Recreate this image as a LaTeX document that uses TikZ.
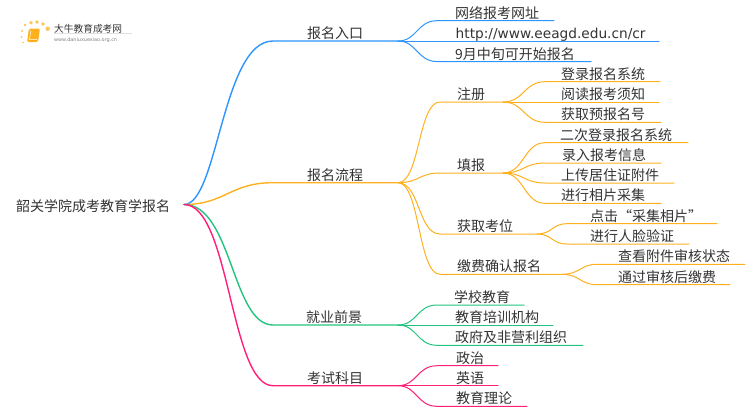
\documentclass[tikz,border=0pt]{standalone}
\usepackage{fontspec}
\setmainfont{Noto Sans CJK SC}
\newfontfamily\urlfont{DejaVu Sans}
\usepackage{xcolor}
\definecolor{rublue}{HTML}{2E94FF}
\definecolor{ruorange}{HTML}{FFB01F}
\definecolor{rugreen}{HTML}{22C47F}
\definecolor{rupink}{HTML}{FF1F78}
\definecolor{rutext}{HTML}{333333}
\tikzset{
    lab/.style={anchor=base west, inner sep=0pt, yshift=-1.6pt, text=rutext, font=\fontsize{14}{14}\selectfont},
    mainline/.style={line width=1.4pt, line cap=round},
    subline/.style={line width=1pt, line cap=round},
}

\begin{document}
\begin{tikzpicture}[x=1pt,y=-1pt]
    \useasboundingbox (0,0) rectangle (750,410);
    % logo
    \foreach \dx/\dy/\dr in {25/25/1.4,31/22.7/1.8,37/22/1.8,43/24/1.8,47.7/28.7/2.2,22/31/1.2,21.7/37/1,23/42.5/.9}
        \fill[ruorange!75!white] (\dx,\dy) circle (\dr pt);
    \fill[ruorange, rounded corners=1.5pt] (29,28.5) -- (40,28.5) -- (38,42) -- (27,42) -- cycle;
    \draw[white, line width=.5pt] (31,30.5) -- (29.3,39.5) -- (37,39.5);
    \node[anchor=base west, inner sep=0pt, text=rutext, font=\fontsize{9.7}{10}\selectfont] (logoname) at (54,32) {大牛教育成考网};
    \node[anchor=base west, inner sep=0pt, text=gray, font=\urlfont\fontsize{4.9}{5}\selectfont] (logourl) at (54,41) {www.daniuxuexiao.org.cn};
    \fill[black!12] (54,33.2) rectangle (132,33.7);

    % root
    \node[lab] (root) at (16,209.5) {韶关学院成考教育学报名};
    \coordinate (rootend) at (184,204.5);

    % first level
    \node[lab] (entry) at (307,37) {报名入口};
    \node[lab] (flow) at (307,178.7) {报名流程};
    \node[lab] (job) at (306,321) {就业前景};
    \node[lab] (exam) at (307,381.7) {考试科目};
    \coordinate (entrya) at (273,41);      \coordinate (entryb) at (398,41);
    \coordinate (flowa) at (273,182.7);    \coordinate (flowb) at (398,182.7);
    \coordinate (joba) at (273,325);       \coordinate (jobb) at (398,325);
    \coordinate (exama) at (273,385.7);    \coordinate (examb) at (398,385.7);
    \draw[mainline, rublue] (rootend) .. controls (218,204.5) and (222,41) .. (entrya) -- (entryb);
    \draw[mainline, ruorange] (rootend) .. controls (225,204.5) and (230,182.7) .. (flowa) -- (flowb);
    \draw[mainline, rugreen] (rootend) .. controls (232,204.5) and (232,325) .. (joba) -- (jobb);
    \draw[mainline, rupink] (rootend) .. controls (230,204.5) and (230,385.7) .. (exama) -- (examb);

    % entry
    \node[lab] (site) at (455,16.7) {网络报考网址};
    \node[lab, font=\urlfont\fontsize{13.7}{14}\selectfont] (url) at (455.5,37) {http://www.eeagd.edu.cn/cr};
    \node[lab] (sept) at (455,57.5) {9月中旬可开始报名};
    \coordinate (sitea) at (437,20.7);   \coordinate (siteb) at (554,20.7);
    \coordinate (urlb) at (659,41);
    \coordinate (septa) at (437,61.5);   \coordinate (septb) at (591,61.5);
    \draw[subline, rublue] (entryb) .. controls (417,41) and (417,20.7) .. (sitea) -- (siteb);
    \draw[subline, rublue] (entryb) -- (urlb);
    \draw[subline, rublue] (entryb) .. controls (417,41) and (417,61.5) .. (septa) -- (septb);

    % flow
    \node[lab] (reg) at (457,98) {注册};
    \node[lab] (form) at (457,169) {填报};
    \node[lab] (seat) at (457,230) {获取考位};
    \node[lab] (pay) at (457,270.3) {缴费确认报名};
    \coordinate (rega) at (440,102);     \coordinate (regb) at (503,102);
    \coordinate (forma) at (440,173);    \coordinate (formb) at (503,173);
    \coordinate (seata) at (440,234);    \coordinate (seatb) at (537,234);
    \coordinate (paya) at (440,274.3);   \coordinate (payb) at (562,274.3);
    \draw[subline, ruorange] (flowb) .. controls (420,182.7) and (418,102) .. (rega) -- (regb);
    \draw[subline, ruorange] (flowb) .. controls (419,182.7) and (419,173) .. (forma) -- (formb);
    \draw[subline, ruorange] (flowb) .. controls (420,182.7) and (418,234) .. (seata) -- (seatb);
    \draw[subline, ruorange] (flowb) .. controls (420,182.7) and (418,274.3) .. (paya) -- (payb);

    % reg
    \node[lab] (login) at (561,77.7) {登录报名系统};
    \node[lab] (notice) at (561,98) {阅读报考须知};
    \node[lab] (number) at (561,118.3) {获取预报名号};
    \coordinate (logina) at (545,81.7);   \coordinate (loginb) at (660,81.7);
    \coordinate (noticeb) at (659,102);
    \coordinate (numbera) at (545,122.3); \coordinate (numberb) at (661,122.3);
    \draw[subline, ruorange] (regb) .. controls (524,102) and (524,81.7) .. (logina) -- (loginb);
    \draw[subline, ruorange] (regb) -- (noticeb);
    \draw[subline, ruorange] (regb) .. controls (524,102) and (524,122.3) .. (numbera) -- (numberb);

    % form
    \node[lab] (again) at (560,138.7) {二次登录报名系统};
    \node[lab] (input) at (562,159) {录入报考信息};
    \node[lab] (upload) at (561,179) {上传居住证附件};
    \node[lab] (photo) at (561,199.3) {进行相片采集};
    \coordinate (againa) at (545,142.7);  \coordinate (againb) at (688,142.7);
    \coordinate (inputa) at (545,163);    \coordinate (inputb) at (661,163);
    \coordinate (uploada) at (545,183);   \coordinate (uploadb) at (674,183);
    \coordinate (photoa) at (545,203.3);  \coordinate (photob) at (661,203.3);
    \draw[subline, ruorange] (formb) .. controls (524,173) and (524,142.7) .. (againa) -- (againb);
    \draw[subline, ruorange] (formb) .. controls (524,173) and (524,163) .. (inputa) -- (inputb);
    \draw[subline, ruorange] (formb) .. controls (524,173) and (524,183) .. (uploada) -- (uploadb);
    \draw[subline, ruorange] (formb) .. controls (524,173) and (524,203.3) .. (photoa) -- (photob);

    % seat
    \node[lab] (click) at (590,219.7) {点击“采集相片”};
    \node[lab] (face) at (590,240) {进行人脸验证};
    \coordinate (clicka) at (567,223.7);  \coordinate (clickb) at (717,223.7);
    \coordinate (facea) at (567,244);     \coordinate (faceb) at (689,244);
    \draw[subline, ruorange] (seatb) .. controls (552,234) and (552,223.7) .. (clicka) -- (clickb);
    \draw[subline, ruorange] (seatb) .. controls (552,234) and (552,244) .. (facea) -- (faceb);

    % pay
    \node[lab] (status) at (618,260.3) {查看附件审核状态};
    \node[lab] (fee) at (618,280.7) {通过审核后缴费};
    \coordinate (statusa) at (597,264.3); \coordinate (statusb) at (745,264.3);
    \coordinate (feea) at (597,284.7);    \coordinate (feeb) at (730,284.7);
    \draw[subline, ruorange] (payb) .. controls (580,274.3) and (580,264.3) .. (statusa) -- (statusb);
    \draw[subline, ruorange] (payb) .. controls (580,274.3) and (580,284.7) .. (feea) -- (feeb);

    % job
    \node[lab] (school) at (454,301) {学校教育};
    \node[lab] (train) at (455,321) {教育培训机构};
    \node[lab] (gov) at (455,341.3) {政府及非营利组织};
    \coordinate (schoola) at (437,305);   \coordinate (schoolb) at (524,305);
    \coordinate (trainb) at (553,325);
    \coordinate (gova) at (437,345.3);    \coordinate (govb) at (583,345.3);
    \draw[subline, rugreen] (jobb) .. controls (417,325) and (417,305) .. (schoola) -- (schoolb);
    \draw[subline, rugreen] (jobb) -- (trainb);
    \draw[subline, rugreen] (jobb) .. controls (417,325) and (417,345.3) .. (gova) -- (govb);

    % exam
    \node[lab] (polit) at (456,361.7) {政治};
    \node[lab] (engl) at (456,381.7) {英语};
    \node[lab] (theory) at (456,402.3) {教育理论};
    \coordinate (polita) at (437,365.7);  \coordinate (politb) at (498,365.7);
    \coordinate (englb) at (498,385.7);
    \coordinate (theorya) at (437,406.3); \coordinate (theoryb) at (527,406.3);
    \draw[subline, rupink] (examb) .. controls (417,385.7) and (417,365.7) .. (polita) -- (politb);
    \draw[subline, rupink] (examb) -- (englb);
    \draw[subline, rupink] (examb) .. controls (417,385.7) and (417,406.3) .. (theorya) -- (theoryb);
    \end{tikzpicture}
\end{document}
